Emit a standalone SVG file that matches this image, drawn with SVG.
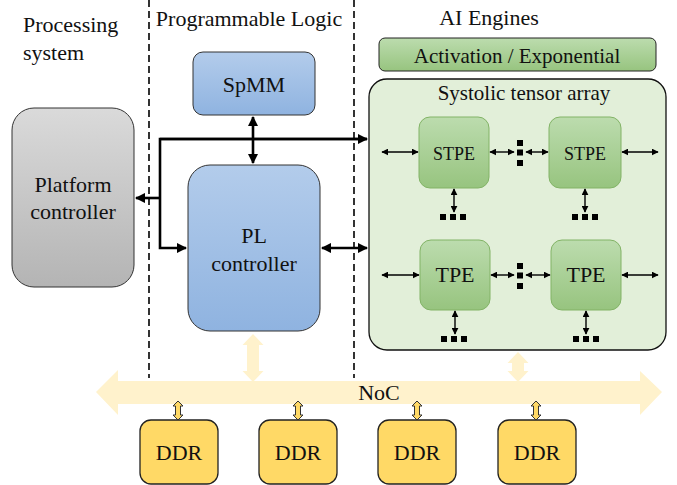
<svg xmlns="http://www.w3.org/2000/svg" width="677" height="485" viewBox="0 0 677 485">
<defs>
<linearGradient id="gBlue" x1="0" y1="0" x2="0" y2="1"><stop offset="0" stop-color="#b3cceb"/><stop offset="1" stop-color="#8fb3e0"/></linearGradient>
<linearGradient id="gGray" x1="0" y1="0" x2="0" y2="1"><stop offset="0" stop-color="#dadada"/><stop offset="1" stop-color="#b4b4b4"/></linearGradient>
<linearGradient id="gGreen" x1="0" y1="0" x2="0" y2="1"><stop offset="0" stop-color="#bcdcae"/><stop offset="1" stop-color="#97c47f"/></linearGradient>
<marker id="ah" viewBox="0 0 10 10" refX="9" refY="5" markerWidth="4" markerHeight="4" orient="auto-start-reverse"><path d="M0,0 L10,5 L0,10 z" fill="#000"/></marker>
<marker id="as" viewBox="0 0 10 10" refX="9" refY="5" markerWidth="5" markerHeight="5" orient="auto-start-reverse"><path d="M0,0 L10,5 L0,10 z" fill="#000"/></marker>
</defs>
<style>
text{font-family:'Liberation Serif','DejaVu Serif','Times New Roman',serif;fill:#111;}
.dash{stroke:#000;stroke-width:1.6;stroke-dasharray:7 4;fill:none;}
.thick{stroke:#000;stroke-width:2.6;fill:none;}
.thin{stroke:#000;stroke-width:1.4;fill:none;}
.pe{fill:url(#gGreen);stroke:#82b366;stroke-width:1;}
.ddr{fill:#ffd966;stroke:#222;stroke-width:1.3;}
.noc{fill:#fff2cc;}
.darr{fill:#ffd966;stroke:#333;stroke-width:1;}
.dot{fill:#000;}
</style>

<g id="labels" font-family="Liberation Serif, serif">
<line class="dash" x1="149" y1="0" x2="149" y2="378"/>
<line class="dash" x1="354" y1="0" x2="354" y2="378"/>
<text x="23" y="32" font-size="22">Processing</text>
<text x="23" y="60" font-size="22">system</text>
<text x="249" y="26" font-size="22" text-anchor="middle">Programmable Logic</text>
<text x="489" y="25" font-size="22" text-anchor="middle">AI Engines</text>
</g>

<g id="noc">
<polygon class="noc" points="96,392 118,370 118,381 640,381 640,371 662,392 640,415 640,404 118,404 118,415"/>
<polygon class="noc" points="253,334 263.5,345 259,345 259,371 263.5,371 253,382 242.5,371 247,371 247,345 242.5,345"/>
<polygon class="noc" points="518,352 528.5,363 524,363 524,371 528.5,371 518,382 507.5,371 512,371 512,363 507.5,363"/>
<text x="379" y="400" font-size="22" text-anchor="middle">NoC</text>
</g>

<g id="platform">
<rect x="12" y="108" width="122" height="179" rx="22" fill="url(#gGray)" stroke="#333" stroke-width="1"/>
<text x="73" y="192" font-size="22" text-anchor="middle">Platform</text>
<text x="73" y="219" font-size="22" text-anchor="middle">controller</text>
</g>

<g id="spmm">
<rect x="193" y="52" width="122" height="63" rx="10" fill="url(#gBlue)" stroke="#333" stroke-width="1"/>
<text x="254" y="92" font-size="22" text-anchor="middle">SpMM</text>
</g>

<g id="plctrl">
<rect x="188" y="165" width="132" height="166" rx="22" fill="url(#gBlue)" stroke="#333" stroke-width="1"/>
<text x="254" y="243" font-size="22" text-anchor="middle">PL</text>
<text x="254" y="271" font-size="22" text-anchor="middle">controller</text>
</g>

<g id="activation">
<rect x="379" y="38" width="277" height="33" rx="6" fill="url(#gGreen)" stroke="#222" stroke-width="1"/>
<text x="517" y="63" font-size="21" text-anchor="middle">Activation / Exponential</text>
</g>

<g id="systolic">
<rect x="369" y="79" width="297" height="271" rx="18" fill="#e2efd9" stroke="#111" stroke-width="1.3"/>
<text x="524" y="100" font-size="21" text-anchor="middle">Systolic tensor array</text>
</g>

<g id="stpe1"><rect class="pe" x="419" y="117" width="70" height="71" rx="11"/><text x="454" y="160" font-size="18" text-anchor="middle">STPE</text></g>
<g id="stpe2"><rect class="pe" x="549" y="117" width="72" height="71" rx="11"/><text x="585" y="160" font-size="18" text-anchor="middle">STPE</text></g>
<g id="tpe1"><rect class="pe" x="420" y="240" width="70" height="70" rx="11"/><text x="455" y="282" font-size="22" text-anchor="middle">TPE</text></g>
<g id="tpe2"><rect class="pe" x="551" y="240" width="70" height="70" rx="11"/><text x="586" y="282" font-size="22" text-anchor="middle">TPE</text></g>

<g id="ddr1"><rect class="ddr" x="140" y="420" width="78" height="64" rx="11"/><text x="179" y="460" font-size="22" text-anchor="middle">DDR</text></g>
<g id="ddr2"><rect class="ddr" x="259" y="420" width="78" height="64" rx="11"/><text x="298" y="460" font-size="22" text-anchor="middle">DDR</text></g>
<g id="ddr3"><rect class="ddr" x="378" y="420" width="78" height="64" rx="11"/><text x="417" y="460" font-size="22" text-anchor="middle">DDR</text></g>
<g id="ddr4"><rect class="ddr" x="498" y="420" width="78" height="64" rx="11"/><text x="537" y="460" font-size="22" text-anchor="middle">DDR</text></g>

<g id="connectors">
<line class="thick" x1="253" y1="117" x2="253" y2="163" marker-start="url(#ah)" marker-end="url(#ah)"/>
<line class="thick" x1="160" y1="198" x2="136" y2="198" marker-end="url(#ah)"/>
<polyline class="thick" points="367,139 160,139 160,248 186,248" marker-end="url(#ah)"/>
<line class="thick" x1="160" y1="139" x2="367" y2="139" marker-end="url(#ah)"/>
<line class="thick" x1="322" y1="248" x2="367" y2="248" marker-start="url(#ah)" marker-end="url(#ah)"/>

<line class="thin" x1="382" y1="152" x2="418" y2="152" marker-start="url(#as)" marker-end="url(#as)"/>
<line class="thin" x1="490" y1="152" x2="514" y2="152" marker-start="url(#as)" marker-end="url(#as)"/>
<line class="thin" x1="526" y1="152" x2="548" y2="152" marker-start="url(#as)" marker-end="url(#as)"/>
<line class="thin" x1="622" y1="152" x2="658" y2="152" marker-start="url(#as)" marker-end="url(#as)"/>
<line class="thin" x1="382" y1="275" x2="419" y2="275" marker-start="url(#as)" marker-end="url(#as)"/>
<line class="thin" x1="491" y1="275" x2="514" y2="275" marker-start="url(#as)" marker-end="url(#as)"/>
<line class="thin" x1="526" y1="275" x2="550" y2="275" marker-start="url(#as)" marker-end="url(#as)"/>
<line class="thin" x1="622" y1="275" x2="658" y2="275" marker-start="url(#as)" marker-end="url(#as)"/>
<line class="thin" x1="454" y1="189" x2="454" y2="212" marker-start="url(#as)" marker-end="url(#as)"/>
<line class="thin" x1="585" y1="189" x2="585" y2="212" marker-start="url(#as)" marker-end="url(#as)"/>
<line class="thin" x1="455" y1="311" x2="455" y2="334" marker-start="url(#as)" marker-end="url(#as)"/>
<line class="thin" x1="586" y1="311" x2="586" y2="334" marker-start="url(#as)" marker-end="url(#as)"/>

<rect class="dot" x="517" y="140" width="6" height="6"/><rect class="dot" x="517" y="149.5" width="6" height="6"/><rect class="dot" x="517" y="160" width="6" height="6"/>
<rect class="dot" x="517" y="263" width="6" height="6"/><rect class="dot" x="517" y="272.5" width="6" height="6"/><rect class="dot" x="517" y="283" width="6" height="6"/>
<rect class="dot" x="440" y="214" width="6" height="6"/><rect class="dot" x="450" y="214" width="6" height="6"/><rect class="dot" x="460" y="214" width="6" height="6"/>
<rect class="dot" x="572" y="214" width="6" height="6"/><rect class="dot" x="582" y="214" width="6" height="6"/><rect class="dot" x="592" y="214" width="6" height="6"/>
<rect class="dot" x="441" y="336" width="6" height="6"/><rect class="dot" x="451" y="336" width="6" height="6"/><rect class="dot" x="461" y="336" width="6" height="6"/>
<rect class="dot" x="573" y="336" width="6" height="6"/><rect class="dot" x="583" y="336" width="6" height="6"/><rect class="dot" x="593" y="336" width="6" height="6"/>

<polygon class="darr" points="178,401 183,406 180.5,406 180.5,415 183,415 178,420 173,415 175.5,415 175.5,406 173,406"/>
<polygon class="darr" points="298,401 303,406 300.5,406 300.5,415 303,415 298,420 293,415 295.5,415 295.5,406 293,406"/>
<polygon class="darr" points="417,401 422,406 419.5,406 419.5,415 422,415 417,420 412,415 414.5,415 414.5,406 412,406"/>
<polygon class="darr" points="536,401 541,406 538.5,406 538.5,415 541,415 536,420 531,415 533.5,415 533.5,406 531,406"/>
</g>
</svg>
